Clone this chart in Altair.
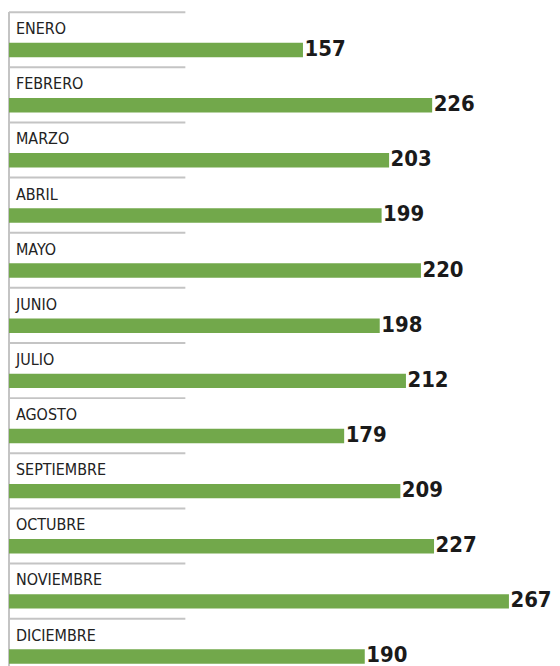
import altair as alt
import pandas as pd

months = ["ENERO", "FEBRERO", "MARZO", "ABRIL", "MAYO", "JUNIO", "JULIO",
          "AGOSTO", "SEPTIEMBRE", "OCTUBRE", "NOVIEMBRE", "DICIEMBRE"]
values = [157, 226, 203, 199, 220, 198, 212, 179, 209, 227, 267, 190]

df = pd.DataFrame({"month": months, "value": values})

W = 545
H = 664
band = H / 12.0
center = band / 2.0
FONT = "'DejaVu Sans Condensed', 'Liberation Sans Narrow', sans-serif"

ysc = alt.Scale(domain=months, paddingInner=0, paddingOuter=0)
y = alt.Y("month:N", sort=months, scale=ysc, axis=None)
x = alt.X("value:Q", scale=alt.Scale(domain=[0, 290]), axis=None)

base = alt.Chart(df)

sep = base.mark_rule(color="#c4c4c4", strokeWidth=2, yOffset=-center).encode(
    y=y, x=alt.value(0), x2=alt.value(177)
)

vline = base.mark_rule(color="#c4c4c4", strokeWidth=1.5).encode(
    x=alt.value(0), y=alt.value(0), y2=alt.value(H)
)

bars = base.mark_bar(color="#72a84b", size=14.5, yOffset=38 - center).encode(
    y=y, x=x
)

labels = base.mark_text(
    align="left", baseline="middle", font=FONT,
    fontSize=16, color="#222222", dx=7, yOffset=17 - center
).encode(y=y, x=alt.value(0), text="month:N")

vals = base.mark_text(
    align="left", baseline="middle", font=FONT,
    fontSize=22, fontWeight="bold", color="#1a1a1a", dx=1.5, yOffset=37 - center
).encode(y=y, x=x, text="value:Q")

chart = alt.layer(sep, vline, bars, labels, vals).properties(
    width=W, height=H,
    padding={"left": 0, "top": 2, "right": 0, "bottom": 0},
).configure_view(stroke=None)

chart.save("out.html", embed_options={"renderer": "svg", "actions": False})
